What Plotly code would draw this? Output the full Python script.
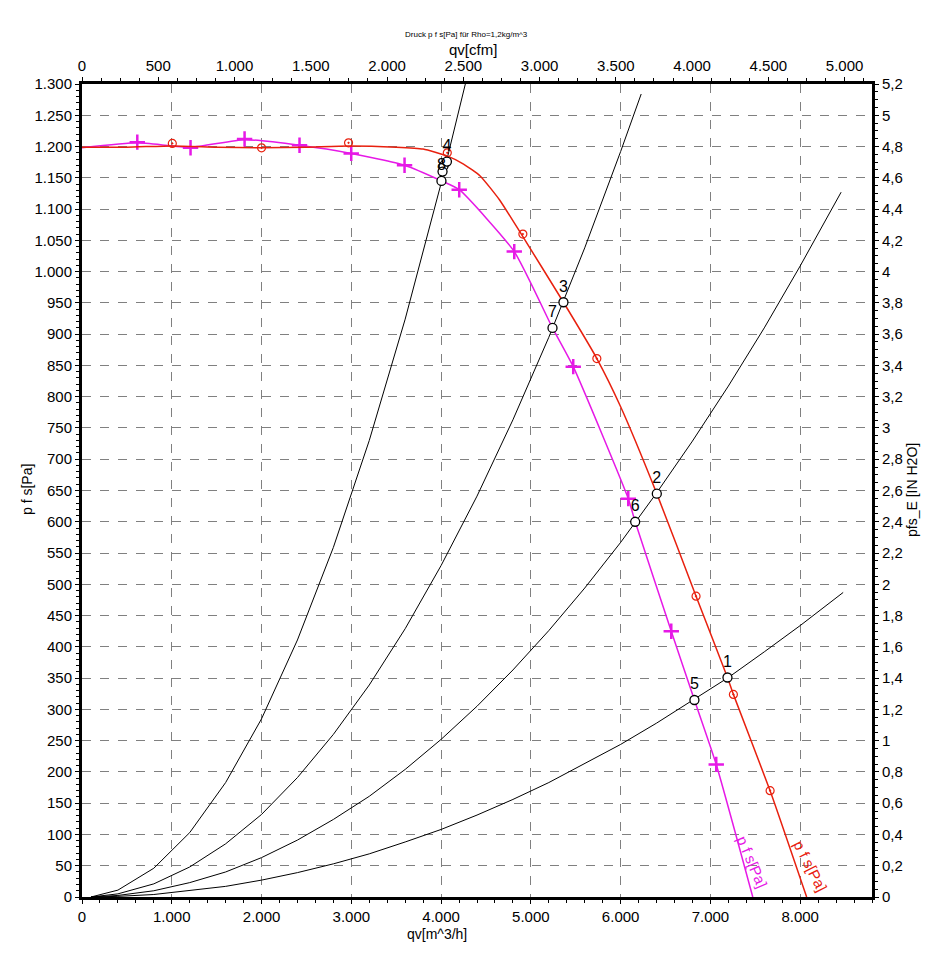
import plotly.graph_objects as go

# ---- data ----
# fan curve 1 (red, circles)  qv [m^3/h], p fs [Pa]
red_x = [0, 500, 1006, 1500, 2000, 2500, 2969, 3500, 3800, 4065, 4250, 4435, 4650, 4880, 5363, 5735, 6000, 6403, 6840, 7190, 7256, 7665, 8072]
red_y = [1199, 1199, 1201, 1199, 1198, 1199, 1201, 1199, 1196, 1185, 1172, 1153, 1115, 1063, 951, 861, 784, 645, 481, 351, 324, 170, 0]
red_mx = [1006, 2000, 2969, 4069, 4911, 5735, 6840, 7256, 7665]
red_my = [1205, 1198, 1206, 1190, 1060, 861, 481, 324, 170]

# fan curve 2 (magenta, plus)
mag_x = [0, 616, 1209, 1811, 2423, 2999, 3593, 4004, 4202, 4815, 5241, 5472, 6085, 6162, 6564, 6822, 7065, 7472]
mag_y = [1198, 1206, 1199, 1211, 1202, 1189, 1170, 1145, 1131, 1032, 910, 848, 637, 600, 425, 315, 212, 0]
mag_mx = [616, 1209, 1811, 2423, 2999, 3593, 4202, 4815, 5472, 6085, 6564, 7065]
mag_my = [1207, 1198, 1212, 1202, 1189, 1170, 1131, 1032, 848, 637, 425, 212]

# system curves (black)
sys1_x = [100, 400, 800, 1200, 1600, 2000, 2400, 2800, 3200, 3600, 4000, 4400, 4800, 5200, 5600, 6000, 6400, 6800, 7200, 7600, 8000, 8479]
sys1_y = [0, 1, 4, 10, 17, 27, 39, 53, 69, 88, 108, 131, 156, 183, 213, 244, 278, 314, 351, 392, 434, 487]
sys2_x = [100, 400, 800, 1200, 1600, 2000, 2400, 2800, 3200, 3600, 4000, 4400, 4800, 5200, 5600, 6000, 6400, 6800, 7200, 7600, 8000, 8456]
sys2_y = [0, 2.5, 10, 23, 40, 63, 91, 124, 161, 204, 252, 305, 363, 426, 494, 567, 646, 729, 817, 910, 1009, 1127]
sys3_x = [100, 400, 800, 1200, 1600, 2000, 2400, 2800, 3200, 3600, 4000, 4400, 4800, 5200, 5600, 6000, 6229]
sys3_y = [0, 5, 21, 48, 85, 132, 191, 260, 339, 429, 530, 641, 763, 895, 1038, 1192, 1284]
sys4_x = [100, 400, 800, 1200, 1600, 2000, 2400, 2800, 3200, 3600, 4000, 4270]
sys4_y = [0, 11, 46, 103, 183, 285, 411, 559, 730, 924, 1141, 1300]

# operating points
op_x = [7190, 6403, 5363, 4065, 6822, 6162, 5241, 4004]
op_y = [351, 645, 951, 1176, 315, 600, 910, 1145]
op_lbl = ["1", "2", "3", "4", "5", "6", "7", "8"]
extra_x = [4027, 4016]
extra_y = [1169, 1160]

# axes
x_max = 8800          # m^3/h
cfm_max = 8800 / 1.699
y_max = 1300          # Pa
y2_max = 5.2          # in H2O

RED = "#e8200e"
MAG = "#e619e6"
FONT = "Liberation Sans, Arial, sans-serif"

fig = go.Figure()
for sx, sy in [(sys1_x, sys1_y), (sys2_x, sys2_y), (sys3_x, sys3_y), (sys4_x, sys4_y)]:
    fig.add_trace(go.Scatter(x=sx, y=sy, mode="lines", line=dict(color="black", width=1),
                             showlegend=False, hoverinfo="skip"))

fig.add_trace(go.Scatter(x=mag_x, y=mag_y, mode="lines", line=dict(color=MAG, width=1.5, shape="spline", smoothing=0.5),
                         showlegend=False))
fig.add_trace(go.Scatter(x=mag_mx, y=mag_my, mode="markers",
                         marker=dict(symbol="cross-thin", size=11, line=dict(color=MAG, width=2.5)),
                         showlegend=False))
fig.add_trace(go.Scatter(x=red_x, y=red_y, mode="lines", line=dict(color=RED, width=1.5, shape="spline", smoothing=0.5),
                         showlegend=False))
fig.add_trace(go.Scatter(x=red_mx, y=red_my, mode="markers",
                         marker=dict(symbol="circle-open-dot", size=8, color=RED, line=dict(color=RED, width=1.2)),
                         showlegend=False))

fig.add_trace(go.Scatter(x=extra_x, y=extra_y, mode="markers",
                         marker=dict(symbol="circle", size=9, color="white", line=dict(color="black", width=1.3)),
                         showlegend=False))
fig.add_trace(go.Scatter(x=op_x, y=op_y, mode="markers+text", text=op_lbl, textposition="top center",
                         textfont=dict(family=FONT, size=16, color="black"),
                         marker=dict(symbol="circle", size=9, color="white", line=dict(color="black", width=1.3)),
                         showlegend=False))

# dummy trace for secondary axes
fig.add_trace(go.Scatter(x=[None], y=[None], xaxis="x2", yaxis="y2", mode="markers",
                         showlegend=False, hoverinfo="skip"))

axis_common = dict(showline=True, linewidth=3, linecolor="black", ticks="outside", ticklen=4,
                   tickwidth=1, tickcolor="black", zeroline=False, separatethousands=True,
                   tickfont=dict(family=FONT, size=15, color="black"))

# page body has an 8px margin: figure starts at (8, 8)
fig.update_layout(
    width=927, height=952, autosize=False,
    margin=dict(l=74, r=63, t=76, b=63),
    plot_bgcolor="white", paper_bgcolor="white",
    separators=",.",
    font=dict(family=FONT, color="black"),
    xaxis=dict(range=[0, x_max], tick0=0, dtick=1000, showgrid=True, gridcolor="#808080",
               griddash="dash", gridwidth=1,
               minor=dict(dtick=200, ticklen=3, ticks="outside", showgrid=False, tickcolor="black"),
               **axis_common),
    yaxis=dict(range=[0, y_max], tick0=0, dtick=50, showgrid=True, gridcolor="#808080",
               griddash="dash", gridwidth=1,
               minor=dict(dtick=10, ticklen=3, ticks="outside", showgrid=False, tickcolor="black"),
               **axis_common),
    xaxis2=dict(range=[0, cfm_max], overlaying="x", side="top", anchor="y", tick0=0, dtick=500,
                showgrid=False,
                minor=dict(dtick=125, ticklen=3, ticks="outside", showgrid=False, tickcolor="black"),
                **axis_common),
    yaxis2=dict(range=[0, y2_max], overlaying="y", side="right", anchor="x", tick0=0, dtick=0.2,
                showgrid=False,
                minor=dict(dtick=0.05, ticklen=3, ticks="outside", showgrid=False, tickcolor="black"),
                **axis_common),
)

ann = [
    dict(text="Druck p f s[Pa] für Rho=1,2kg/m^3", x=0.487, y=1.0615, size=8),
    dict(text="qv[cfm]", x=0.495, y=1.0430, size=15),
    dict(text="qv[m^3/h]", x=0.449, y=-0.045, size=14),
    dict(text="p f s[Pa]", x=-0.0696, y=0.5006, textangle=-90, size=14),
    dict(text="pfs_E [IN H2O]", x=1.0506, y=0.5006, textangle=-90, size=14),
]
for a in ann:
    fig.add_annotation(xref="paper", yref="paper", showarrow=False, xanchor="center", yanchor="middle",
                       text=a["text"], x=a["x"], y=a["y"], textangle=a.get("textangle", 0),
                       font=dict(family=FONT, color="black", size=a["size"]))

fig.add_annotation(x=7464, y=57, xref="x", yref="y", text="p f s[Pa]", showarrow=False, textangle=67,
                   font=dict(family=FONT, size=15, color=MAG))
fig.add_annotation(x=8110, y=50, xref="x", yref="y", text="p f s[Pa]", showarrow=False, textangle=63,
                   font=dict(family=FONT, size=15, color=RED))

fig.write_html("out.html")
